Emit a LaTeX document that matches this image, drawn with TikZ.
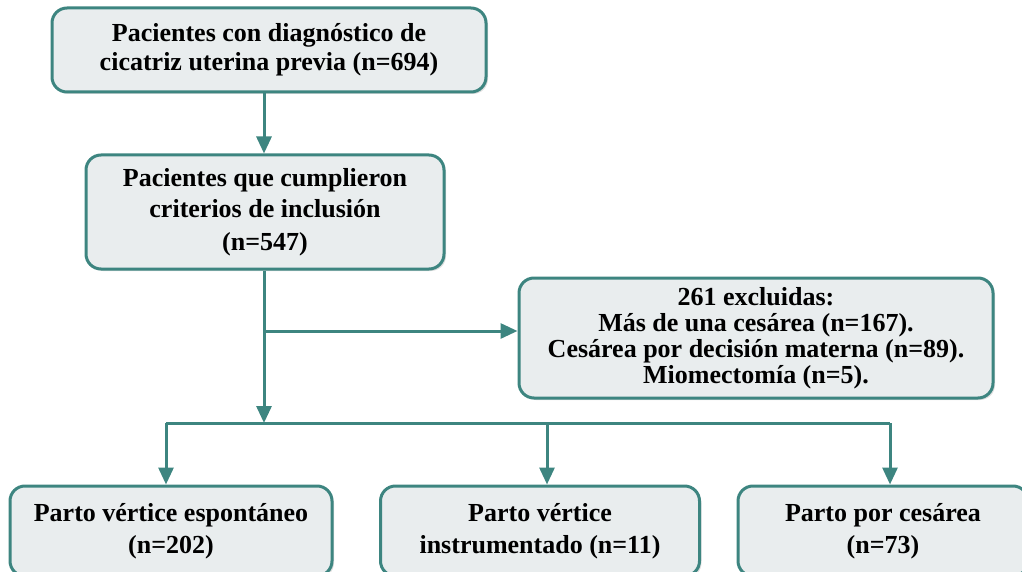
\documentclass[tikz,border=0pt]{standalone}
\usepackage{fontspec}
\setmainfont{Liberation Serif}
\usepackage{tikz}
\usetikzlibrary{arrows.meta,shadows}

\definecolor{tealline}{HTML}{3D8580}
\definecolor{boxfill}{HTML}{E9EDEE}

\tikzset{
	box/.style={draw=tealline, fill=boxfill, line width=3pt, rounded corners=15pt,
		align=center, inner sep=0pt, font=\fontsize{26}{29}\selectfont\bfseries,
		drop shadow={shadow xshift=2pt, shadow yshift=-2pt, opacity=0.25, fill=gray}},
	link/.style={draw=tealline, line width=3pt},
	arrowlink/.style={link, -{Triangle[length=17pt,width=15pt]}}
}

\begin{document}
\begin{tikzpicture}[x=1pt,y=-1pt]
	\clip (0,0) rectangle (1022,572);
	\useasboundingbox (0,0) rectangle (1022,572);

	\node[box, minimum width=434pt, minimum height=84pt] (total) at (269,50)
		{Pacientes con diagnóstico de\\cicatriz uterina previa (n=694)};
	\node[box, minimum width=358pt, minimum height=114pt] (incl) at (265,212)
		{Pacientes que cumplieron\\[2pt] criterios de inclusión\\[4pt] (n=547)};
	\node[box, minimum width=474pt, minimum height=120pt, font=\fontsize{26}{26}\selectfont\bfseries] (excl) at (756,338)
		{261 excluidas:\\ Más de una cesárea (n=167).\\ Cesárea por decisión materna (n=89).\\ Miomectomía (n=5).};
	\node[box, minimum width=322pt, minimum height=90pt] (espont) at (171,531)
		{Parto vértice espontáneo\\[3pt] (n=202)};
	\node[box, minimum width=319pt, minimum height=90pt] (instr) at (540,531)
		{Parto vértice\\[3pt] instrumentado (n=11)};
	\node[box, minimum width=290pt, minimum height=90pt] (ces) at (883,531)
		{Parto por cesárea\\[3pt] (n=73)};

	\coordinate (split) at (264,331);
	\coordinate (join) at (264,423);
	\coordinate (left) at (166,423);
	\coordinate (mid) at (547,423);
	\coordinate (right) at (890,423);

	\path
	(total.south -| split) edge[arrowlink] (incl.north -| split)
	(incl.south -| split) edge[arrowlink] (join)
	(split) edge[arrowlink] (excl.west |- split);
	\draw[link] (left) -- (right);
	\path
	(left) edge[arrowlink] (espont.north -| left)
	(mid) edge[arrowlink] (instr.north -| mid)
	(right) edge[arrowlink] (ces.north -| right);

\end{tikzpicture}
\end{document}
